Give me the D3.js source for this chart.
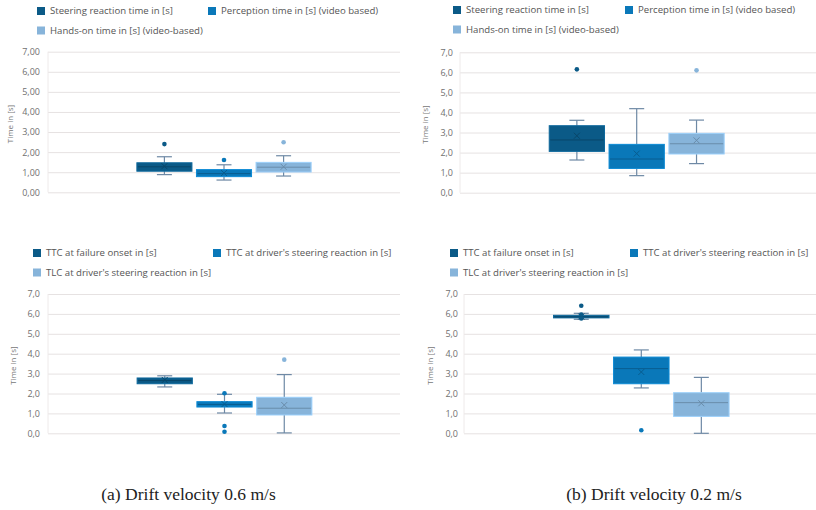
<!DOCTYPE html>
<html><head><meta charset="utf-8">
<script src="https://cdn.jsdelivr.net/npm/d3@7"></script>
<style>body{margin:0;background:#fff}text{font-family:"Open Sans",Lato,sans-serif}</style>
</head><body><svg id="c" width="816" height="510"></svg>
<script>
// ---- data ----
const seriesTop = ["Steering reaction time in [s]", "Perception time in [s] (video based)", "Hands-on time in [s] (video-based)"];
const seriesBottom = ["TTC at failure onset in [s]", "TTC at driver's steering reaction in [s]", "TLC at driver's steering reaction in [s]"];
const colors = ["#0b5a87", "#0a78b9", "#87b4da"];
const yTicks = [0, 1, 2, 3, 4, 5, 6, 7];
const captions = ["(a) Drift velocity 0.6 m/s", "(b) Drift velocity 0.2 m/s"];

// (a) top: reaction times, drift 0.6 m/s
const aMin  = [0.88, 0.61, 0.81];
const aQ1   = [1.05, 0.78, 1.01];
const aMed  = [1.27, 0.93, 1.25];
const aQ3   = [1.47, 1.13, 1.49];
const aMax  = [1.77, 1.37, 1.82];
const aMean = [1.30, 0.96, 1.27];
const aOut  = [[2.40], [1.61], [2.49]];

// (b) top: reaction times, drift 0.2 m/s
const bMin  = [1.63, 0.85, 1.45];
const bQ1   = [2.06, 1.21, 1.93];
const bMed  = [2.63, 1.68, 2.44];
const bQ3   = [3.34, 2.41, 2.96];
const bMax  = [3.61, 4.19, 3.62];
const bMean = [2.84, 1.95, 2.61];
const bOut  = [[6.15], [], [6.10]];

// (a) bottom: TTC / TLC, drift 0.6 m/s
const cMin  = [2.33, 1.02, 0.02];
const cQ1   = [2.49, 1.32, 0.92];
const cMed  = [2.65, 1.45, 1.26];
const cQ3   = [2.78, 1.59, 1.81];
const cMax  = [2.89, 1.96, 2.95];
const cMean = [2.68, 1.47, 1.42];
const cOut  = [[], [2.01, 0.37, 0.08], [3.70]];

// (b) bottom: TTC / TLC, drift 0.2 m/s
const dMin  = [5.73, 2.28, 0.00];
const dQ1   = [5.80, 2.49, 0.85];
const dMed  = [5.85, 3.25, 1.54];
const dQ3   = [5.93, 3.83, 2.04];
const dMax  = [6.03, 4.19, 2.81];
const dMean = [5.87, 3.08, 1.51];
const dOut  = [[6.41, 5.97, 5.77], [0.15], []];

// ---- drawing ----
const svg = d3.select("#c");

function build(min, q1, med, q3, max, mean, out) {
  return min.map((_, i) => ({i, min: min[i], q1: q1[i], med: med[i], q3: q3[i], max: max[i], mean: mean[i], out: out[i]}));
}

function panel(cfg) {
  const g = svg.append("g");
  const y = d3.scaleLinear().domain([0, 7]).range([cfg.y0, cfg.y7]);
  const group = d3.scaleBand().domain(["g"]).range([cfg.left, cfg.left + cfg.span]).paddingOuter(0.51).paddingInner(0);
  const x = d3.scaleBand().domain(cfg.series).range([group("g"), group("g") + group.bandwidth()]).paddingInner(0.076);

  // gridlines + tick labels
  const axis = d3.axisLeft(y).tickValues(yTicks).tickFormat(d3.format(cfg.fmt))
    .tickSizeInner(-(cfg.right - cfg.left)).tickSizeOuter(0).tickPadding(cfg.pad);
  const ag = g.append("g").attr("transform", `translate(${cfg.left},0)`).call(axis);
  ag.select(".domain").remove();
  ag.selectAll(".tick line").attr("stroke", "#e6e2e2").attr("stroke-width", 1);
  ag.selectAll(".tick text").text(d => d3.format(cfg.fmt)(d).replace(".", ","))
    .attr("fill", "#707070").style("font-size", "9px").style("font-family", "'Open Sans', Lato, sans-serif");
  g.append("line").attr("x1", cfg.left).attr("x2", cfg.left).attr("y1", cfg.y7).attr("y2", cfg.y0)
    .attr("stroke", "#eeeaea");

  // axis title
  g.append("text").attr("transform", `translate(${cfg.titleX},${(cfg.y0 + cfg.y7) / 2 + 2}) rotate(-90)`)
    .attr("text-anchor", "middle").attr("fill", "#777").style("font-size", "8px").text("Time in [s]");

  // boxes
  const data = build(...cfg.data);
  const bw = x.bandwidth();
  const capW = 15;
  const bx = g.selectAll(".bx").data(data).join("g").attr("class", "bx");
  const cx = d => x(cfg.series[d.i]) + bw / 2;
  const whisk = "#6e89a5";
  bx.append("line").attr("x1", cx).attr("x2", cx).attr("y1", d => y(d.max)).attr("y2", d => y(d.q3)).attr("stroke", whisk).attr("stroke-width", 1.2);
  bx.append("line").attr("x1", cx).attr("x2", cx).attr("y1", d => y(d.q1)).attr("y2", d => y(d.min)).attr("stroke", whisk).attr("stroke-width", 1.2);
  bx.append("line").attr("x1", d => cx(d) - capW / 2).attr("x2", d => cx(d) + capW / 2).attr("y1", d => y(d.max)).attr("y2", d => y(d.max)).attr("stroke", whisk).attr("stroke-width", 1.2);
  bx.append("line").attr("x1", d => cx(d) - capW / 2).attr("x2", d => cx(d) + capW / 2).attr("y1", d => y(d.min)).attr("y2", d => y(d.min)).attr("stroke", whisk).attr("stroke-width", 1.2);
  bx.append("rect").attr("x", d => x(cfg.series[d.i])).attr("width", bw)
    .attr("y", d => y(d.q3)).attr("height", d => Math.max(2, y(d.q1) - y(d.q3)))
    .attr("fill", d => colors[d.i]).attr("stroke", d => d3.color(colors[d.i]).brighter(0.4)).attr("stroke-width", 1);
  bx.append("line").attr("x1", d => x(cfg.series[d.i]) + 1).attr("x2", d => x(cfg.series[d.i]) + bw - 1)
    .attr("y1", d => y(d.med)).attr("y2", d => y(d.med)).attr("stroke", d => d3.color(colors[d.i]).darker(0.7)).attr("stroke-width", 1);
  const m = 3;
  bx.append("path").attr("d", d => {
    const X = cx(d), Y = y(d.mean);
    return `M${X - m},${Y - m}L${X + m},${Y + m}M${X - m},${Y + m}L${X + m},${Y - m}`;
  }).attr("stroke", d => d3.color(colors[d.i]).darker(0.7)).attr("stroke-width", 1).attr("fill", "none");
  bx.each(function (d) {
    d3.select(this).selectAll("circle").data(d.out).join("circle")
      .attr("cx", cx(d)).attr("cy", v => y(v)).attr("r", 2.3).attr("fill", colors[d.i]);
  });

  // legend
  const lg = g.append("g");
  cfg.series.forEach((s, i) => {
    const lx = cfg.leg[i][0], ly = cfg.leg[i][1];
    lg.append("rect").attr("x", lx).attr("y", ly - 4).attr("width", 8).attr("height", 8).attr("fill", colors[i]);
    lg.append("text").attr("x", lx + 13).attr("y", ly + 3.4).attr("fill", "#555").style("font-size", "9.6px").text(s);
  });
}

panel({series: seriesTop, data: [aMin, aQ1, aMed, aQ3, aMax, aMean, aOut], left: 48, right: 400, span: 352,
  y0: 192.3, y7: 51.7, fmt: ".2f", pad: 8, titleX: 13,
  leg: [[37, 11], [208, 11], [37, 30.5]]});
panel({series: seriesTop, data: [bMin, bQ1, bMed, bQ3, bMax, bMean, bOut], left: 460, right: 816, span: 353.4,
  y0: 192.7, y7: 52.3, fmt: ".1f", pad: 7, titleX: 428,
  leg: [[453, 10], [625, 10], [453, 29.5]]});
panel({series: seriesBottom, data: [cMin, cQ1, cMed, cQ3, cMax, cMean, cOut], left: 48, right: 400, span: 353,
  y0: 433.3, y7: 294, fmt: ".1f", pad: 8, titleX: 16,
  leg: [[33, 253], [213, 253], [33, 272.5]]});
panel({series: seriesBottom, data: [dMin, dQ1, dMed, dQ3, dMax, dMean, dOut], left: 464, right: 816, span: 354.6,
  y0: 433.3, y7: 294, fmt: ".1f", pad: 6, titleX: 433,
  leg: [[450, 253], [630, 253], [450, 272.5]]});

// captions
[[188.5, captions[0]], [654, captions[1]]].forEach(([cx, t]) => {
  svg.append("text").attr("x", cx).attr("y", 500).attr("text-anchor", "middle")
    .style("font-family", "'Liberation Serif', 'DejaVu Serif', serif").style("font-size", "17.5px")
    .attr("fill", "#222").text(t);
});
</script></body></html>
